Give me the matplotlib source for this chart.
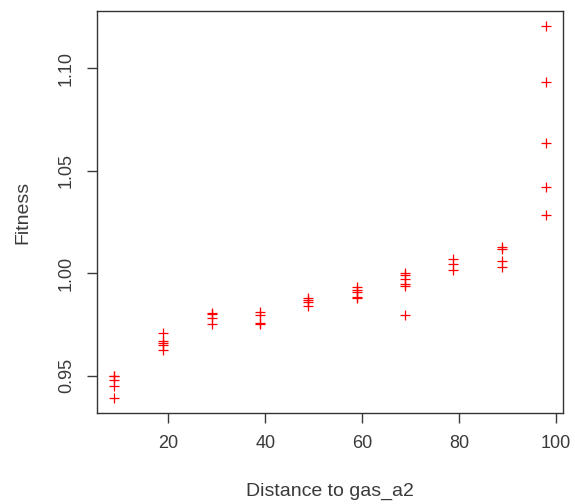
import numpy as np
import matplotlib.pyplot as plt

plt.rcParams['font.family'] = ['Liberation Sans', 'DejaVu Sans']

# distance to gas_a2 and fitness, grouped by distance
dist_groups = [8.8, 18.8, 28.9, 38.9, 48.8, 58.9, 68.9, 78.8, 88.9, 97.9]
fitness_groups = [
    [0.950, 0.950, 0.948, 0.945, 0.939],
    [0.971, 0.967, 0.966, 0.965, 0.9625],
    [0.9805, 0.980, 0.978, 0.975],
    [0.981, 0.9797, 0.9757, 0.9752],
    [0.988, 0.987, 0.986, 0.984],
    [0.9934, 0.9919, 0.9906, 0.9885, 0.9878],
    [1.000, 0.9989, 0.9969, 0.9949, 0.9939, 0.9797],
    [1.0071, 1.0046, 1.0013],
    [1.0129, 1.0117, 1.0058, 1.003],
    [1.1206, 1.0932, 1.0637, 1.0421, 1.0284],
]

x = np.concatenate([[d] * len(f) for d, f in zip(dist_groups, fitness_groups)])
y = np.concatenate(fitness_groups)

fig = plt.figure(figsize=(5.75, 5.04), dpi=100)
ax = fig.add_axes([0.1687, 0.1806, 0.979 - 0.1687, 0.978 - 0.1806])

ax.scatter(x, y, marker='+', color='red', s=60, linewidths=0.9)

# R-style 4% padding on both axes
xr = x.max() - x.min()
yr = y.max() - y.min()
ax.set_xlim(x.min() - 0.04 * xr, x.max() + 0.04 * xr)
ax.set_ylim(y.min() - 0.04 * yr, y.max() + 0.04 * yr)

ax.set_xticks([20, 40, 60, 80, 100])
ax.set_yticks([0.95, 1.00, 1.05, 1.10])
ax.set_yticklabels(['0.95', '1.00', '1.05', '1.10'], rotation=90, va='center')
ax.tick_params(direction='out', length=7, width=1, labelsize=13,
               colors='#3a3a3a', pad=9)
for s in ax.spines.values():
    s.set_color('#333333')
    s.set_linewidth(1)

ax.set_xlabel('Distance to gas_a2', fontsize=14, color='#3a3a3a', labelpad=22)
ax.set_ylabel('Fitness', fontsize=14, color='#3a3a3a', labelpad=19)

fig.savefig('out.png', dpi=100)
